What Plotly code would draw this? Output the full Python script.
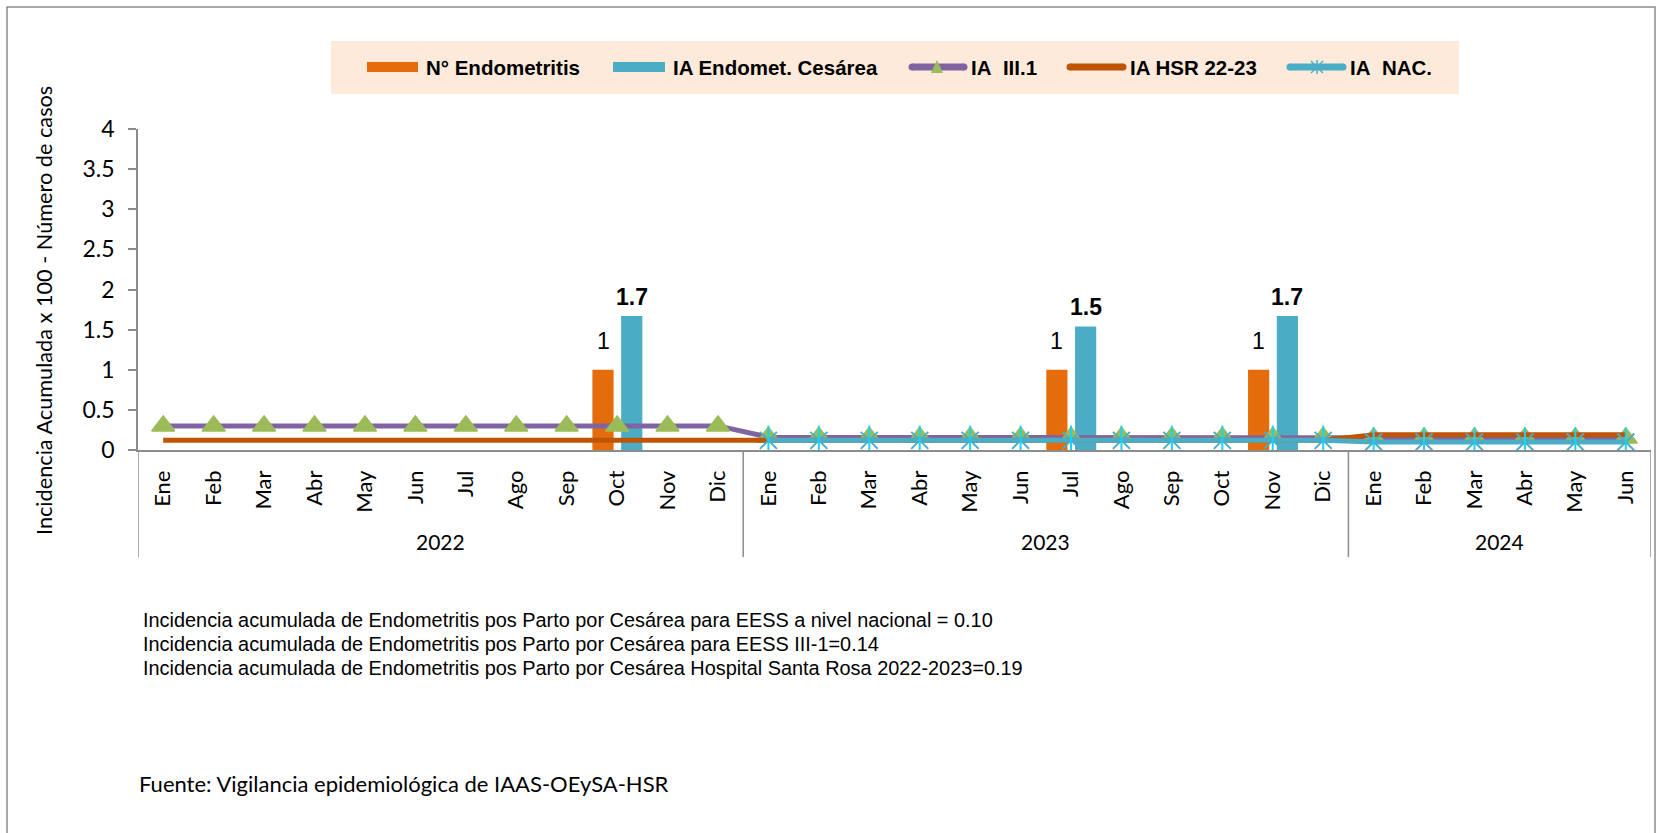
import plotly.graph_objects as go

# ---------------- data ----------------
months = ["Ene", "Feb", "Mar", "Abr", "May", "Jun", "Jul", "Ago", "Sep", "Oct", "Nov", "Dic",
          "Ene", "Feb", "Mar", "Abr", "May", "Jun", "Jul", "Ago", "Sep", "Oct", "Nov", "Dic",
          "Ene", "Feb", "Mar", "Abr", "May", "Jun"]
years = ["2022", "2022", "2022", "2022", "2022", "2022", "2022", "2022", "2022", "2022", "2022", "2022",
         "2023", "2023", "2023", "2023", "2023", "2023", "2023", "2023", "2023", "2023", "2023", "2023",
         "2024", "2024", "2024", "2024", "2024", "2024"]

n_endometritis = [0, 0, 0, 0, 0, 0, 0, 0, 0, 1, 0, 0,
                  0, 0, 0, 0, 0, 0, 1, 0, 0, 0, 1, 0,
                  0, 0, 0, 0, 0, 0]
ia_cesarea = [0, 0, 0, 0, 0, 0, 0, 0, 0, 1.67, 0, 0,
              0, 0, 0, 0, 0, 0, 1.54, 0, 0, 0, 1.67, 0,
              0, 0, 0, 0, 0, 0]
ia_iii1 = [0.30, 0.30, 0.30, 0.30, 0.30, 0.30, 0.30, 0.30, 0.30, 0.30, 0.30, 0.30,
           0.16, 0.16, 0.16, 0.16, 0.16, 0.16, 0.16, 0.16, 0.16, 0.16, 0.16, 0.16,
           0.15, 0.15, 0.15, 0.15, 0.15, 0.15]
ia_hsr = [0.12, 0.12, 0.12, 0.12, 0.12, 0.12, 0.12, 0.12, 0.12, 0.12, 0.12, 0.12,
          0.12, 0.12, 0.12, 0.12, 0.12, 0.12, 0.12, 0.12, 0.12, 0.12, 0.12, 0.12,
          0.19, 0.19, 0.19, 0.19, 0.19, 0.19]
ia_nac = [None, None, None, None, None, None, None, None, None, None, None, None,
          0.12, 0.12, 0.12, 0.12, 0.12, 0.12, 0.12, 0.12, 0.12, 0.12, 0.12, 0.12,
          0.10, 0.10, 0.10, 0.10, 0.10, 0.10]

legend_names = ["N° Endometritis", "IA Endomet. Cesárea", "IA\u00a0 III.1", "IA HSR 22-23", "IA\u00a0 NAC."]
y_title = "Incidencia Acumulada x 100 - Número de casos"
notes = ["Incidencia acumulada de Endometritis pos Parto por Cesárea para EESS a nivel nacional = 0.10",
         "Incidencia acumulada de Endometritis pos Parto por Cesárea para EESS III-1=0.14",
         "Incidencia acumulada de Endometritis pos Parto por Cesárea Hospital Santa Rosa 2022-2023=0.19"]
source = "Fuente: Vigilancia epidemiológica de IAAS-OEySA-HSR"

# ---------------- styles ----------------
C_BAR_OR = "#E46C0A"
C_BAR_BL = "#4BACC6"
C_PURPLE = "#8064A2"
C_GREEN = "#9BBB59"
C_HSR = "#BF5504"
C_NAC = "#4BACC6"
C_AXIS = "#8C8C8C"
CAL = "Lato, Carlito, Calibri, sans-serif"
ARI = "Liberation Sans, Arial, sans-serif"

W, H = 1660, 833
L, R, T, B = 138, 1651, 129, 450


def px(x):
    return (x - L) / (R - L)


def py(y):
    return (B - y) / (B - T)


xi = list(range(len(months)))

fig = go.Figure()
fig.add_trace(go.Bar(x=xi, y=n_endometritis, width=0.42, offset=-0.49,
                     marker=dict(color=C_BAR_OR, line=dict(width=0)), showlegend=False,
                     name=legend_names[0]))
fig.add_trace(go.Bar(x=xi, y=ia_cesarea, width=0.42, offset=0.08,
                     marker=dict(color=C_BAR_BL, line=dict(width=0)), showlegend=False,
                     name=legend_names[1]))
fig.add_trace(go.Scatter(x=xi, y=ia_iii1, mode="lines+markers", name=legend_names[2],
                         line=dict(color=C_PURPLE, width=5),
                         marker=dict(symbol="triangle-up", size=20, color=C_GREEN,
                                     line=dict(width=1.5, color=C_GREEN)),
                         showlegend=False))
fig.add_trace(go.Scatter(x=xi, y=ia_hsr, mode="lines", name=legend_names[3],
                         line=dict(color=C_HSR, width=5), showlegend=False))
fig.add_trace(go.Scatter(x=xi, y=ia_nac, mode="lines+markers", name=legend_names[4],
                         line=dict(color=C_NAC, width=5),
                         marker=dict(symbol="x-thin-open", size=17, line=dict(color=C_NAC, width=2)),
                         showlegend=False))
fig.add_trace(go.Scatter(x=xi, y=ia_nac, mode="markers", name=legend_names[4],
                         marker=dict(symbol="line-ns-open", size=21, line=dict(color=C_NAC, width=2)),
                         showlegend=False, hoverinfo="skip"))

annotations = []
shapes = []

# bar value labels
for i, v in enumerate(n_endometritis):
    if v:
        annotations.append(dict(x=i - 0.28, y=v, xref="x", yref="y", text=f"{v:g}", showarrow=False,
                                yanchor="middle", yshift=29, font=dict(family=ARI, size=23, color="#000")))
for i, v in enumerate(ia_cesarea):
    if v:
        annotations.append(dict(x=i + 0.29, y=v, xref="x", yref="y", text=f"{v:.1f}", showarrow=False,
                                yanchor="middle", yshift=19,
                                font=dict(family=ARI, size=23, color="#000", weight="bold")))

# year group labels and separators
groups = []
for i, yv in enumerate(years):
    if not groups or groups[-1][0] != yv:
        groups.append([yv, i, i])
    else:
        groups[-1][2] = i
for yv, a, b in groups:
    annotations.append(dict(x=(a + b) / 2, y=py(541), xref="x", yref="paper", text=yv, showarrow=False,
                            yanchor="middle", font=dict(family=CAL, size=21, color="#000")))
    shapes.append(dict(type="line", xref="x", yref="paper", x0=a - 0.5, x1=a - 0.5, y0=0, y1=py(557),
                       line=dict(color=C_AXIS, width=1.5)))
shapes.append(dict(type="line", xref="x", yref="paper", x0=len(months) - 0.5, x1=len(months) - 0.5,
                   y0=0, y1=py(557), line=dict(color=C_AXIS, width=1.5)))

# y title
annotations.append(dict(x=px(44), y=py(311), xref="paper", yref="paper", text=y_title, textangle=-90,
                        showarrow=False, xanchor="center", yanchor="middle",
                        font=dict(family=CAL, size=21.7, color="#000")))

# notes
for k, t in enumerate(notes):
    annotations.append(dict(x=px(141), y=py(620 + 24 * k), xref="paper", yref="paper", text=t,
                            showarrow=False, xanchor="left", yanchor="middle",
                            font=dict(family=ARI, size=19.9, color="#000")))
annotations.append(dict(x=px(137), y=py(783), xref="paper", yref="paper", text=source,
                        showarrow=False, xanchor="left", yanchor="middle",
                        font=dict(family=CAL, size=22, color="#000")))

# outer border
shapes.append(dict(type="rect", xref="paper", yref="paper", x0=px(7), x1=px(1655), y0=py(7), y1=py(845),
                   line=dict(color=C_AXIS, width=1.5), fillcolor="rgba(0,0,0,0)", layer="below"))

# custom legend
shapes.append(dict(type="rect", xref="paper", yref="paper", x0=px(331), x1=px(1459), y0=py(41), y1=py(94),
                   line=dict(width=0), fillcolor="#FDEADA", layer="below"))
LY = 67
shapes.append(dict(type="rect", xref="paper", yref="paper", x0=px(367), x1=px(418), y0=py(LY - 5),
                   y1=py(LY + 5), line=dict(width=0), fillcolor=C_BAR_OR))
shapes.append(dict(type="rect", xref="paper", yref="paper", x0=px(613), x1=px(665), y0=py(LY - 5),
                   y1=py(LY + 5), line=dict(width=0), fillcolor=C_BAR_BL))
for (a, b, c) in [(912, 964, C_PURPLE), (1070, 1123, C_HSR), (1290, 1343, C_NAC)]:
    shapes.append(dict(type="line", xref="paper", yref="paper", x0=px(a), x1=px(b), y0=py(LY), y1=py(LY),
                       line=dict(color=c, width=7)))
    for e in (a, b):
        shapes.append(dict(type="circle", xref="paper", yref="paper", x0=px(e - 3.5), x1=px(e + 3.5),
                           y0=py(LY - 3.5), y1=py(LY + 3.5), line=dict(width=0), fillcolor=c))
# triangle marker in legend
tri = f"M{px(931)},{py(LY + 6)} L{px(943)},{py(LY + 6)} L{px(937)},{py(LY - 7)} Z"
shapes.append(dict(type="path", xref="paper", yref="paper", path=tri, fillcolor=C_GREEN, line=dict(width=0)))
# asterisk marker in legend
for (dx0, dy0, dx1, dy1) in [(-6, -6, 6, 6), (-6, 6, 6, -6), (0, -7, 0, 7)]:
    shapes.append(dict(type="line", xref="paper", yref="paper", x0=px(1317 + dx0), x1=px(1317 + dx1),
                       y0=py(LY + dy0), y1=py(LY + dy1), line=dict(color=C_NAC, width=1.5)))
for name, x0 in zip(legend_names, [424, 671, 969, 1128, 1348]):
    annotations.append(dict(x=px(x0), y=py(LY), xref="paper", yref="paper", text=name, showarrow=False,
                            xanchor="left", yanchor="middle",
                            font=dict(family=ARI, size=20.5, color="#000", weight="bold")))

fig.update_layout(
    width=W, height=H,
    margin=dict(l=L, r=W - R, t=T, b=H - B, pad=0),
    paper_bgcolor="white", plot_bgcolor="white",
    barmode="overlay",
    showlegend=False,
    annotations=annotations,
    shapes=shapes,
    xaxis=dict(range=[-0.5, len(months) - 0.5], tickmode="array", tickvals=xi, ticktext=months,
               tickangle=-90, ticks="", showgrid=False, zeroline=False, showline=True,
               linecolor=C_AXIS, linewidth=1.5, tickfont=dict(family=CAL, size=22, color="#000"),
               ticklabelstandoff=10),
    yaxis=dict(range=[0, 4], tickmode="array", tickvals=[0, 0.5, 1, 1.5, 2, 2.5, 3, 3.5, 4],
               ticktext=["0", "0.5", "1", "1.5", "2", "2.5", "3", "3.5", "4"],
               ticks="outside", ticklen=8, tickcolor=C_AXIS, tickwidth=1.5,
               showgrid=False, zeroline=False, showline=True, linecolor=C_AXIS, linewidth=1.5,
               tickfont=dict(family=CAL, size=23, color="#000"), ticklabelstandoff=9),
)

fig.write_html("out.html", config={"displayModeBar": False},
               post_script="document.body.style.margin='0';document.body.style.overflow='hidden';")
